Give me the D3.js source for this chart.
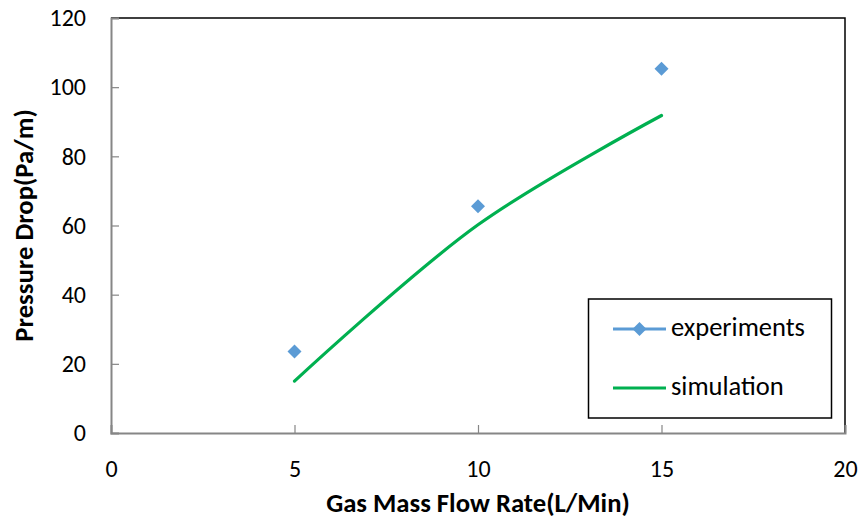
<!DOCTYPE html>
<html><head><meta charset="utf-8">
<script src="https://cdn.jsdelivr.net/npm/d3@7"></script>
<style>body{margin:0;background:#fff}svg{display:block}</style>
</head><body>
<script>
const expX = [5, 10, 15];
const expY = [23.6, 65.6, 105.3];
const simX = [5, 10, 15];
const simY = [15.0, 60.2, 91.8];
const xTicks = [0, 5, 10, 15, 20];
const yTicks = [0, 20, 40, 60, 80, 100, 120];
const seriesNames = ["experiments", "simulation"];

const W = 863, H = 527;
const m = {left: 111, right: 845, top: 18, bottom: 433};
const font = "Carlito, Calibri, Lato, 'Open Sans', sans-serif";
const svg = d3.select("body").append("svg").attr("width", W).attr("height", H);

const x = d3.scaleLinear().domain([0, 20]).range([m.left, m.right]);
const y = d3.scaleLinear().domain([0, 120]).range([m.bottom, m.top]);

// plot area border (top & right)
svg.append("path").attr("d", `M${m.left},${m.top}H${m.right}V${m.bottom}`)
  .attr("fill", "none").attr("stroke", "#000").attr("stroke-width", 1.5);

const grey = "#868686";
const xAxis = svg.append("g").attr("transform", `translate(0,${m.bottom})`)
  .call(d3.axisBottom(x).tickValues(xTicks).tickSize(-8).tickPadding(27).tickFormat(d3.format("d")));
const yAxis = svg.append("g").attr("transform", `translate(${m.left},0)`)
  .call(d3.axisLeft(y).tickValues(yTicks).tickSize(-8).tickPadding(25).tickFormat(d3.format("d")));
[xAxis, yAxis].forEach(g => {
  g.select(".domain").attr("stroke", grey).attr("stroke-width", 2);
  g.selectAll(".tick line").attr("stroke", grey).attr("stroke-width", 1.2);
  g.selectAll(".tick text").attr("fill", "#000").style("font-family", font).style("font-size", "24px");
});
xAxis.selectAll(".tick").filter(d => d === 0).select("line").remove();
yAxis.selectAll(".tick").filter(d => d === 0).select("line").remove();

// simulation line
svg.append("path")
  .datum(simX.map((d, i) => [d, simY[i]]))
  .attr("d", d3.line().x(d => x(d[0])).y(d => y(d[1])).curve(d3.curveCatmullRom.alpha(0.5)))
  .attr("fill", "none").attr("stroke", "#00B050").attr("stroke-width", 3.2).attr("stroke-linecap", "round");

// experiment diamonds
const diamond = s => `M0,${-s}L${s},0L0,${s}L${-s},0Z`;
svg.selectAll(".exp").data(expX.map((d, i) => [d, expY[i]])).join("path")
  .attr("transform", d => `translate(${x(d[0])},${y(d[1])})`)
  .attr("d", diamond(7)).attr("fill", "#5B9BD5");

// axis titles
svg.append("text").attr("x", (m.left + m.right) / 2).attr("y", 512)
  .attr("text-anchor", "middle").style("font-family", font).style("font-size", "26.7px").style("font-weight", "bold")
  .text("Gas Mass Flow Rate(L/Min)");
svg.append("text").attr("transform", `translate(33,${(m.top + m.bottom) / 2}) rotate(-90)`)
  .attr("text-anchor", "middle").style("font-family", font).style("font-size", "26.7px").style("font-weight", "bold")
  .text("Pressure Drop(Pa/m)");

// legend
const lg = svg.append("g");
lg.append("rect").attr("x", 588.5).attr("y", 299).attr("width", 243).attr("height", 119)
  .attr("fill", "#fff").attr("stroke", "#000").attr("stroke-width", 1.5);
const ly = [329, 388];
lg.append("line").attr("x1", 613).attr("x2", 666).attr("y1", ly[0]).attr("y2", ly[0])
  .attr("stroke", "#5B9BD5").attr("stroke-width", 3);
lg.append("path").attr("transform", `translate(639.5,${ly[0]})`).attr("d", diamond(7)).attr("fill", "#5B9BD5");
lg.append("line").attr("x1", 613).attr("x2", 666).attr("y1", ly[1]).attr("y2", ly[1])
  .attr("stroke", "#00B050").attr("stroke-width", 3.2);
seriesNames.forEach((n, i) => {
  lg.append("text").attr("x", 671).attr("y", ly[i]).attr("dy", "0.28em")
    .style("font-family", font).style("font-size", "26.5px").text(n);
});
</script>
</body></html>
